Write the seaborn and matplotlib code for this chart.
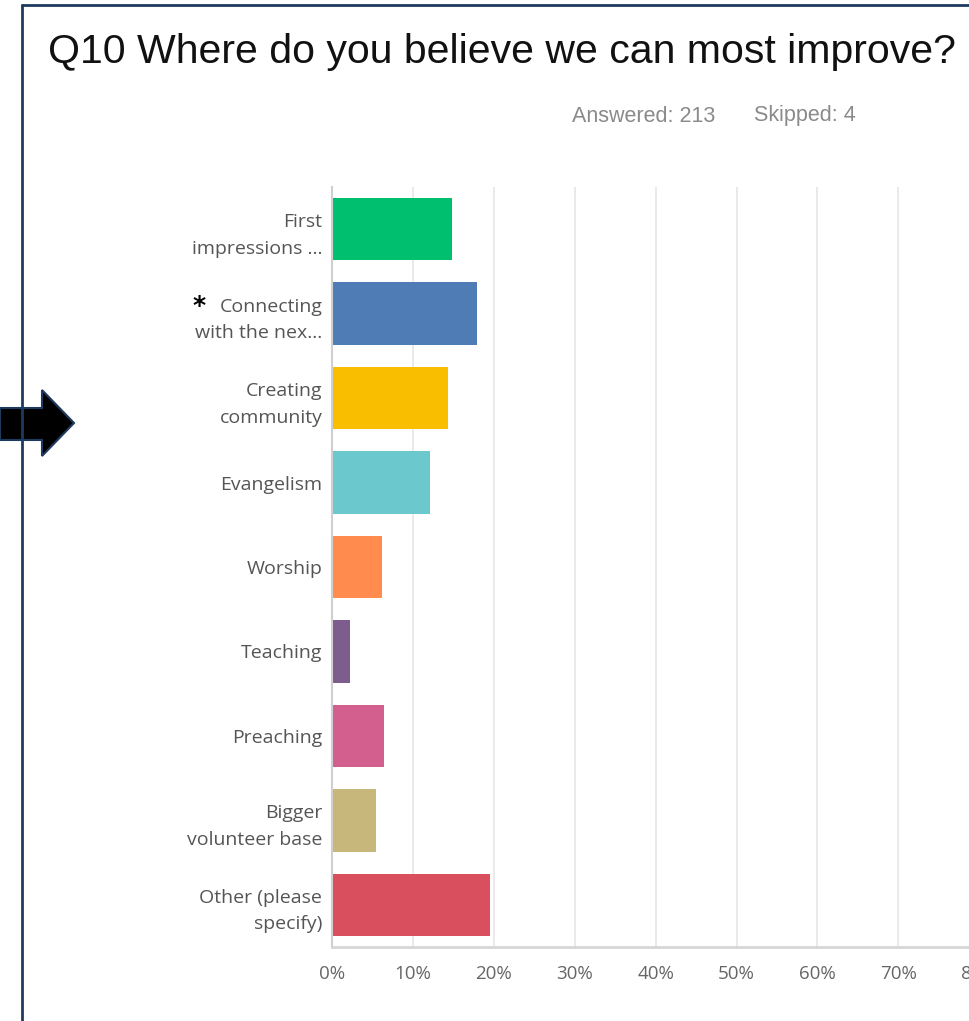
import matplotlib
matplotlib.use("Agg")
import matplotlib.pyplot as plt
import seaborn as sns
from matplotlib.patches import Polygon
from matplotlib.lines import Line2D

categories = ["First impressions", "Connecting with the next generation", "Creating community",
              "Evangelism", "Worship", "Teaching", "Preaching", "Bigger volunteer base",
              "Other (please specify)"]
tick_labels = ["First\nimpressions ...", "Connecting\nwith the nex...", "Creating\ncommunity",
               "Evangelism", "Worship", "Teaching", "Preaching", "Bigger\nvolunteer base",
               "Other (please\nspecify)"]
values = [14.8, 17.9, 14.3, 12.1, 6.2, 2.2, 6.4, 5.5, 19.5]
colors = ["#00BF6F", "#507CB6", "#F9BE00", "#6BC8CD", "#FF8B4F", "#7D5C8E",
          "#D25F8E", "#C7B77A", "#DA4F5E"]
x_ticks = [0, 10, 20, 30, 40, 50, 60, 70, 80]
x_tick_labels = [f"{t}%" for t in x_ticks]

title = "Q10 Where do you believe we can most improve?"
answered = "Answered: 213"
skipped = "Skipped: 4"

sns.set_style("white")
plt.rcParams["font.family"] = ["Open Sans", "DejaVu Sans"]

W, H = 970, 1021
fig = plt.figure(figsize=(W / 100, H / 100), dpi=100)
fig.patch.set_facecolor("white")

def fx(x):
    return x / W

def fy(y):
    return 1 - y / H

left, right_px = 332, 332 + 80.9 * 10
top, bottom = 187, 947
ax = fig.add_axes([fx(left), fy(bottom), (right_px - left) / W, (bottom - top) / H])

sns.barplot(x=values, y=categories, hue=categories, palette=colors, legend=False,
            orient="h", width=0.74, saturation=1, ax=ax, edgecolor="none")

ax.set_xlim(0, 100)
ax.set_ylim(8.5, -0.5)
ax.set_xticks(x_ticks)
ax.set_xticklabels(x_tick_labels, color="#666666", fontsize=13.5)
ax.set_yticks(range(len(categories)))
ax.set_yticklabels(tick_labels, color="#555555", fontsize=14, ha="right", linespacing=1.6)
ax.tick_params(axis="both", length=0)
ax.tick_params(axis="x", pad=13)
ax.tick_params(axis="y", pad=7)
ax.set_xlabel("")
ax.set_ylabel("")
ax.grid(axis="x", color="#e6e6e6", linewidth=1.2)
ax.set_axisbelow(True)
for s in ["top", "right"]:
    ax.spines[s].set_visible(False)
ax.spines["left"].set_color("#cfcfcf")
ax.spines["left"].set_linewidth(1.5)
ax.spines["bottom"].set_color("#d6d6d6")
ax.spines["bottom"].set_linewidth(2)

# Title and counts
fig.text(fx(48), fy(52), title, fontsize=29.5, family=["Liberation Sans", "DejaVu Sans"],
         color="#111111", ha="left", va="center")
fig.text(fx(572), fy(116), answered, fontsize=15.5, family=["Liberation Sans", "DejaVu Sans"],
         color="#8a8a8a", ha="left", va="center")
fig.text(fx(754), fy(116), skipped, fontsize=15.5, family=["Liberation Sans", "DejaVu Sans"],
         color="#8a8a8a", ha="left", va="center")

# Asterisk
fig.text(fx(199), fy(306), "*", fontsize=18, fontweight="bold", color="black",
         ha="center", va="center", family=["DejaVu Sans"])

# Arrow
arrow_pts = [(0, 408), (42, 408), (42, 390), (74, 423), (42, 456), (42, 440), (0, 440)]
arrow = Polygon([(fx(x), fy(y)) for x, y in arrow_pts], closed=True, transform=fig.transFigure,
                facecolor="black", edgecolor="#1F3A5F", linewidth=1.5, zorder=5)
fig.add_artist(arrow)

# Frame
navy = "#1F3A5F"
fig.add_artist(Line2D([fx(22), fx(22)], [fy(5), fy(H + 5)], transform=fig.transFigure,
                      color=navy, linewidth=2, zorder=6))
fig.add_artist(Line2D([fx(22), fx(W + 5)], [fy(5), fy(5)], transform=fig.transFigure,
                      color=navy, linewidth=2, zorder=6))

fig.savefig("out.png", dpi=100, facecolor="white")
